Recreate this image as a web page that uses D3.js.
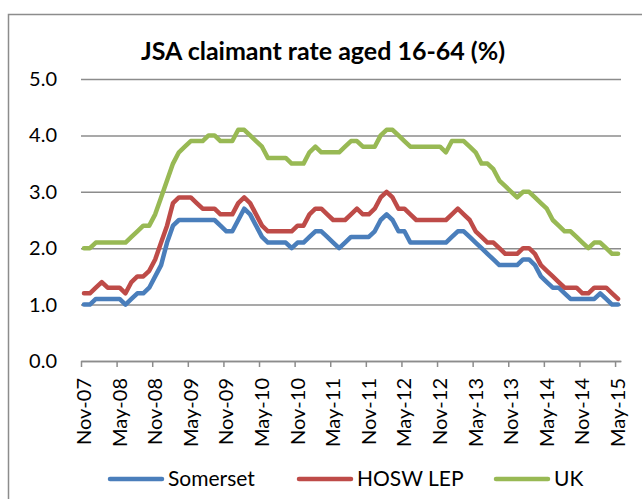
<!DOCTYPE html>
<html>
<head>
<meta charset="utf-8">
<script src="https://cdn.jsdelivr.net/npm/d3@7"></script>
<style>
  html, body { margin: 0; padding: 0; background: #fff; }
  svg { display: block; font-family: Lato, "Open Sans", sans-serif; }
</style>
</head>
<body>
<div id="chart"></div>
<script>
// monthly JSA claimant rate, Nov-07 .. May-15 (91 months)
const tickLabels = ["Nov-07", "May-08", "Nov-08", "May-09", "Nov-09", "May-10", "Nov-10", "May-11",
  "Nov-11", "May-12", "Nov-12", "May-13", "Nov-13", "May-14", "Nov-14", "May-15"];

const seriesNames = ["Somerset", "HOSW LEP", "UK"];

const somerset = [1.0, 1.0, 1.1, 1.1, 1.1, 1.1, 1.1, 1.0, 1.1, 1.2, 1.2, 1.3, 1.5, 1.7, 2.1, 2.4,
  2.5, 2.5, 2.5, 2.5, 2.5, 2.5, 2.5, 2.4, 2.3, 2.3, 2.5, 2.7, 2.6, 2.4, 2.2, 2.1,
  2.1, 2.1, 2.1, 2.0, 2.1, 2.1, 2.2, 2.3, 2.3, 2.2, 2.1, 2.0, 2.1, 2.2, 2.2, 2.2,
  2.2, 2.3, 2.5, 2.6, 2.5, 2.3, 2.3, 2.1, 2.1, 2.1, 2.1, 2.1, 2.1, 2.1, 2.2, 2.3,
  2.3, 2.2, 2.1, 2.0, 1.9, 1.8, 1.7, 1.7, 1.7, 1.7, 1.8, 1.8, 1.7, 1.5, 1.4, 1.3,
  1.3, 1.2, 1.1, 1.1, 1.1, 1.1, 1.1, 1.2, 1.1, 1.0, 1.0];

const hoswLep = [1.2, 1.2, 1.3, 1.4, 1.3, 1.3, 1.3, 1.2, 1.4, 1.5, 1.5, 1.6, 1.8, 2.1, 2.4, 2.8,
  2.9, 2.9, 2.9, 2.8, 2.7, 2.7, 2.7, 2.6, 2.6, 2.6, 2.8, 2.9, 2.8, 2.6, 2.4, 2.3,
  2.3, 2.3, 2.3, 2.3, 2.4, 2.4, 2.6, 2.7, 2.7, 2.6, 2.5, 2.5, 2.5, 2.6, 2.7, 2.6,
  2.6, 2.7, 2.9, 3.0, 2.9, 2.7, 2.7, 2.6, 2.5, 2.5, 2.5, 2.5, 2.5, 2.5, 2.6, 2.7,
  2.6, 2.5, 2.3, 2.2, 2.1, 2.1, 2.0, 1.9, 1.9, 1.9, 2.0, 2.0, 1.9, 1.7, 1.6, 1.5,
  1.4, 1.3, 1.3, 1.3, 1.2, 1.2, 1.3, 1.3, 1.3, 1.2, 1.1];

const uk = [2.0, 2.0, 2.1, 2.1, 2.1, 2.1, 2.1, 2.1, 2.2, 2.3, 2.4, 2.4, 2.6, 2.9, 3.2, 3.5,
  3.7, 3.8, 3.9, 3.9, 3.9, 4.0, 4.0, 3.9, 3.9, 3.9, 4.1, 4.1, 4.0, 3.9, 3.8, 3.6,
  3.6, 3.6, 3.6, 3.5, 3.5, 3.5, 3.7, 3.8, 3.7, 3.7, 3.7, 3.7, 3.8, 3.9, 3.9, 3.8,
  3.8, 3.8, 4.0, 4.1, 4.1, 4.0, 3.9, 3.8, 3.8, 3.8, 3.8, 3.8, 3.8, 3.7, 3.9, 3.9,
  3.9, 3.8, 3.7, 3.5, 3.5, 3.4, 3.2, 3.1, 3.0, 2.9, 3.0, 3.0, 2.9, 2.8, 2.7, 2.5,
  2.4, 2.3, 2.3, 2.2, 2.1, 2.0, 2.1, 2.1, 2.0, 1.9, 1.9];

const colors = ["#4A7EBB", "#BE4B48", "#98B954"];

document.addEventListener("DOMContentLoaded", () => {
    const width = 642, height = 499;
    const series = [somerset, hoswLep, uk];
    const nMonths = somerset.length;

    const svg = d3.select("#chart").append("svg")
        .attr("width", width)
        .attr("height", height);

    // chart area border (runs off the right and bottom edges)
    svg.append("rect")
        .attr("x", 8.5).attr("y", 14.5)
        .attr("width", 700).attr("height", 600)
        .attr("fill", "none")
        .attr("stroke", "#8c8c8c")
        .attr("stroke-width", 1.5);

    // date axis: one slot per month, points in the middle of the slot
    const x = d3.scaleLinear().domain([0, nMonths]).range([81, 621]);
    const y = d3.scaleLinear().domain([0, 5]).range([361, 79]);

    // y gridlines + labels
    svg.append("g")
        .attr("transform", "translate(81,0)")
        .call(d3.axisLeft(y).tickValues([0, 1, 2, 3, 4, 5])
            .tickFormat(d3.format(".1f"))
            .tickSize(-(621 - 81))
            .tickPadding(24))
        .call(g => g.select(".domain").remove())
        .call(g => g.selectAll("line").attr("stroke", "#8c8c8c").attr("stroke-width", 1.5))
        .call(g => g.selectAll("text").attr("font-size", 20).attr("fill", "#000")
            .attr("font-family", "Lato, sans-serif"));

    // x axis with ticks every 6 months
    const tickIdx = tickLabels.map((d, i) => i * 6);
    svg.append("g")
        .attr("transform", `translate(0,${y(0)})`)
        .call(d3.axisBottom(x).tickValues(tickIdx).tickSize(6).tickSizeOuter(0).tickFormat(""))
        .call(g => g.select(".domain").attr("stroke", "#8c8c8c").attr("stroke-width", 1.5))
        .call(g => g.selectAll(".tick line").attr("stroke", "#8c8c8c").attr("stroke-width", 1.5));

    svg.append("g").selectAll("text")
        .data(tickLabels)
        .join("text")
        .attr("transform", (d, i) => `translate(${x(tickIdx[i] + 0.5)},${y(0) + 17}) rotate(-90)`)
        .attr("text-anchor", "end")
        .attr("dy", "0.35em")
        .attr("font-size", 20)
        .attr("fill", "#000")
        .text(d => d);

    // lines
    const line = d3.line()
        .x((d, i) => x(i + 0.5))
        .y(d => y(d));

    svg.append("g").selectAll("path")
        .data(series)
        .join("path")
        .attr("d", line)
        .attr("fill", "none")
        .attr("stroke", (d, i) => colors[i])
        .attr("stroke-width", 4.5)
        .attr("stroke-linejoin", "round")
        .attr("stroke-linecap", "round");

    // title
    svg.append("text")
        .attr("x", 323).attr("y", 60)
        .attr("text-anchor", "middle")
        .attr("font-size", 25)
        .attr("font-weight", "bold")
        .attr("fill", "#000")
        .text("JSA claimant rate aged 16-64 (%)");

    // legend
    const legendX = [110, 299, 496];
    const legend = svg.append("g").selectAll("g")
        .data(seriesNames)
        .join("g")
        .attr("transform", (d, i) => `translate(${legendX[i]},479)`);
    legend.append("line")
        .attr("x1", 0).attr("x2", 52)
        .attr("stroke", (d, i) => colors[i])
        .attr("stroke-width", 4.5)
        .attr("stroke-linecap", "round");
    legend.append("text")
        .attr("x", 58)
        .attr("dy", "0.35em")
        .attr("font-size", 21)
        .attr("fill", "#000")
        .text(d => d);
});
</script>
</body>
</html>
